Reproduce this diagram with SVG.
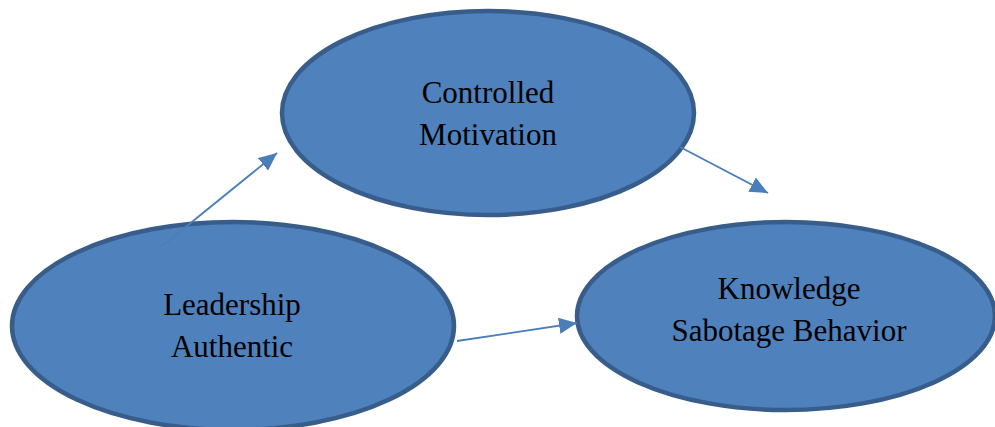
<svg xmlns="http://www.w3.org/2000/svg" width="995" height="427" viewBox="0 0 995 427">
<style>
.node{fill:#4f81bd;stroke:#385d8a;stroke-width:4.5}
.lbl{font-family:"Liberation Serif","Times New Roman",serif;font-size:31px;fill:#000;text-anchor:middle}
.conn{stroke:#4a7ebb;stroke-width:1.8;fill:none;marker-end:url(#ah)}
</style>
<defs>
<marker id="ah" viewBox="0 0 10 10" refX="10" refY="5" markerWidth="10" markerHeight="9" markerUnits="strokeWidth" orient="auto" preserveAspectRatio="none">
<path d="M0,0 L10,5 L0,10 Z" fill="#4a7ebb"/>
</marker>
</defs>
<rect width="995" height="427" fill="#fff"/>
<g id="controlled-motivation">
<ellipse class="node" cx="488" cy="113" rx="206" ry="102"/>
<text class="lbl" x="488" y="103">Controlled</text>
<text class="lbl" x="488" y="145">Motivation</text>
</g>
<g id="leadership-authentic">
<ellipse class="node" cx="233" cy="326" rx="221" ry="104"/>
<text class="lbl" x="232" y="315">Leadership</text>
<text class="lbl" x="232" y="357">Authentic</text>
</g>
<g id="knowledge-sabotage">
<ellipse class="node" cx="786" cy="316" rx="209" ry="94"/>
<text class="lbl" x="789" y="299">Knowledge</text>
<text class="lbl" x="789" y="341">Sabotage Behavior</text>
</g>
<g id="connectors">
<line class="conn" x1="161" y1="247" x2="277" y2="153"/>
<line class="conn" x1="680" y1="147" x2="768" y2="193"/>
<line class="conn" x1="457" y1="341" x2="577" y2="323"/>
</g>
</svg>
